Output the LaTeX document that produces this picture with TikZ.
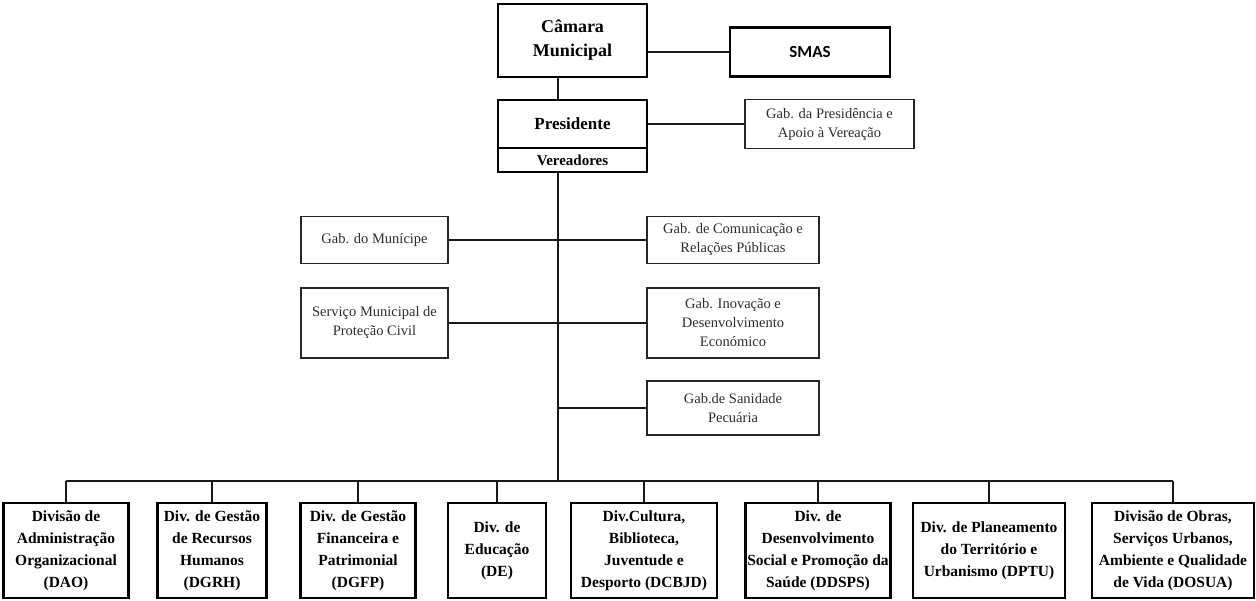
\documentclass[tikz,border=0pt]{standalone}
\usepackage{fontspec}
\setmainfont{Liberation Serif}
\newfontfamily\carlito{Carlito}
\definecolor{midtext}{HTML}{2E2E2E}
\begin{document}
\begin{tikzpicture}[x=1pt,y=-1pt,
  topbox/.style={draw=black,line width=2.8pt,inner sep=0pt,align=center,
    font=\fontsize{18}{24}\selectfont\bfseries},
  midbox/.style={draw=black!85,line width=1.8pt,inner sep=0pt,align=center,
    text=midtext,font=\fontsize{14.5}{19}\selectfont},
  divbox/.style={draw=black,line width=2.8pt,inner sep=0pt,align=center,
    minimum height=95pt,font=\fontsize{15.5}{22}\selectfont\bfseries},
  link/.style={draw=black!90,line width=1.9pt}]
\useasboundingbox (0,0) rectangle (1256,600);
\fill[white] (0,0) rectangle (1256,600);

% top
\node[topbox,minimum width=149pt,minimum height=73pt] (cm) at (572.5,40.5) {Câmara\\Municipal};
\node[topbox,minimum width=160pt,minimum height=49pt,font=\carlito\fontsize{17}{20}\selectfont\bfseries] (smas) at (810,52) {SMAS};
\node[topbox,minimum width=149pt,minimum height=48pt,font=\fontsize{17}{20}\selectfont\bfseries] (pres) at (572.5,124) {Presidente};
\node[topbox,minimum width=149pt,minimum height=24pt,font=\fontsize{15}{17}\selectfont\bfseries] (ver) at (572.5,160) {Vereadores};
\node[midbox,minimum width=169pt,minimum height=49pt] (gabp) at (829.5,124) {Gab. da Presidência e\\Apoio à Vereação};

% middle
\coordinate (sx) at (558,0);
\coordinate (bus) at (0,481);
\node[midbox,minimum width=147pt,minimum height=47pt] (mun) at (374.5,240) {Gab. do Munícipe};
\node[midbox,minimum width=172pt,minimum height=47pt] (com) at (733,240) {Gab. de Comunicação e\\Relações Públicas};
\node[midbox,minimum width=147pt,minimum height=70pt] (prot) at (374.5,323) {Serviço Municipal de\\Proteção Civil};
\node[midbox,minimum width=172pt,minimum height=70pt] (inov) at (733,323) {Gab. Inovação e\\Desenvolvimento\\Económico};
\node[midbox,minimum width=172pt,minimum height=54pt] (san) at (733,408) {Gab.de Sanidade\\Pecuária};

% bottom divisions
\node[divbox,minimum width=125pt] (dao) at (66,550.5) {Divisão de\\Administração\\Organizacional\\(DAO)};
\node[divbox,minimum width=109pt] (dgrh) at (212,550.5) {Div. de Gestão\\de Recursos\\Humanos\\(DGRH)};
\node[divbox,minimum width=115pt] (dgfp) at (358,550.5) {Div. de Gestão\\Financeira e\\Patrimonial\\(DGFP)};
\node[divbox,minimum width=98pt] (de) at (497,550.5) {Div. de\\Educação\\(DE)};
\node[divbox,minimum width=146pt] (dcbjd) at (644,550.5) {Div.Cultura,\\Biblioteca,\\Juventude e\\Desporto (DCBJD)};
\node[divbox,minimum width=145pt] (ddsps) at (818,550.5) {Div. de\\Desenvolvimento\\Social e Promoção da\\Saúde (DDSPS)};
\node[divbox,minimum width=152pt] (dptu) at (989,550.5) {Div. de Planeamento\\do Território e\\Urbanismo (DPTU)};
\node[divbox,minimum width=162pt] (dosua) at (1173,550.5) {Divisão de Obras,\\Serviços Urbanos,\\Ambiente e Qualidade\\de Vida (DOSUA)};

% connectors
\draw[link] (cm.south -| sx) -- (pres.north -| sx);
\draw[link] (smas.west -| cm.east) -- (smas.west);
\draw[link] (pres.east) -- (gabp.west);
\draw[link] (ver.south -| sx) -- (sx |- bus);
\draw[link] (mun.east) -- (com.west);
\draw[link] (prot.east) -- (inov.west);
\draw[link] (san.west -| sx) -- (san.west);
\draw[link] (dao.north |- bus) -- (dosua.north |- bus);
\foreach \n in {dao,dgrh,dgfp,de,dcbjd,ddsps,dptu,dosua}
  \draw[link] (\n.north) -- (\n.north |- bus);
\end{tikzpicture}
\end{document}
